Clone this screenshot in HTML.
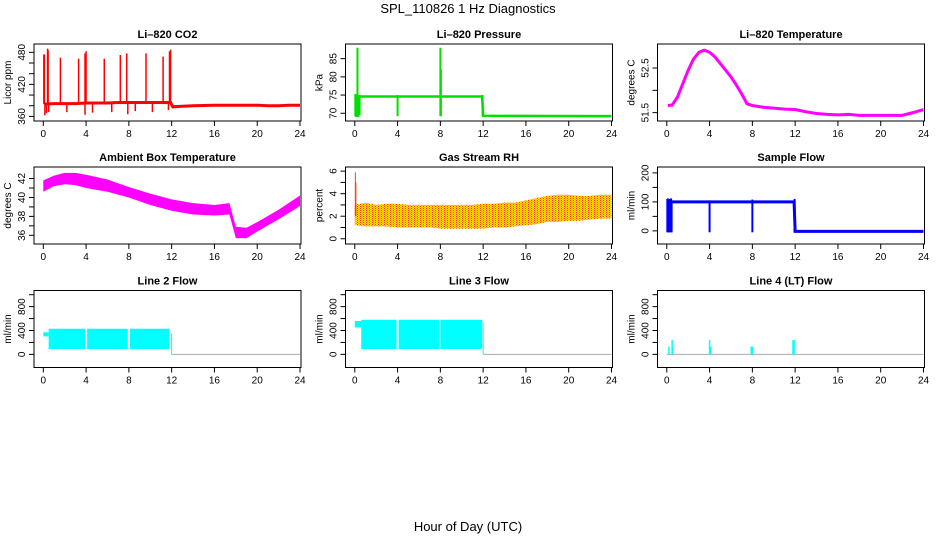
<!DOCTYPE html>
<html><head><meta charset="utf-8"><title>SPL_110826 1 Hz Diagnostics</title>
<style>
html,body{margin:0;padding:0;background:#fff;}
svg{display:block;font-family:"Liberation Sans",Arial,sans-serif;}
</style></head>
<body>
<svg id="chart" width="936" height="540" viewBox="0 0 936 540" xmlns="http://www.w3.org/2000/svg">
<defs>
<pattern id="rhpat" width="3" height="2" patternUnits="userSpaceOnUse">
<rect width="3" height="2" fill="#ffe000"/><rect width="1" height="1" fill="#ff3000"/><rect x="1.5" y="1" width="1" height="1" fill="#ff8000"/>
</pattern>
</defs>
<text x="468" y="13" text-anchor="middle" font-size="13">SPL_110826  1 Hz Diagnostics</text>
<text x="468" y="531" text-anchor="middle" font-size="13">Hour of Day (UTC)</text>
</svg>
<script>
// ---- data ----
const hourTicks = [0,4,8,12,16,20,24];

const co2BaseT = [0.1,1,2,3,4,5,6,7,8,9,10,11,11.9,12.1,13,14,16,18,20,21,22,23,24];
const co2Base = [383,384,384,384,385,385,385,386,386,386,386,386,386,378,379,380,381,381,381,380,380,381,381];
const co2SpikeT = [0.05,0.1,0.4,0.45,1.6,3.3,3.9,4.0,5.7,7.2,7.8,9.6,11.2,11.8,11.9];
const co2SpikeHi = [476,476,487,484,470,468,478,482,468,475,478,478,472,482,485];
const co2DipT = [0.15,0.3,0.5,2.2,3.9,4.6,6.4,7.9,8.6,10.2,11.7];
const co2DipLo = [362,366,368,368,363,367,368,364,370,368,372];

const presBaseT = [0.5,11.9,12,24];
const presBase = [74.6,74.6,69.3,69.2];
const presSpikeT = [0.05,0.1,0.25,0.35,0.45,4,8,8.05,11.95];
const presSpikeLo = [69.2,69,69,69,69.5,69.2,69.2,69.2,69.2];
const presSpikeHi = [75.3,75,88,75,75,75,88,82,75];

const tempT = [0.1,0.5,1,1.5,2,2.5,3,3.5,4,4.5,5,5.5,6,6.5,7,7.5,8,9,10,11,12,13,14,15,16,17,18,19,20,21,22,23,24];
const tempV = [51.66,51.67,51.85,52.15,52.45,52.7,52.85,52.9,52.85,52.75,52.6,52.45,52.3,52.12,51.92,51.7,51.66,51.62,51.6,51.58,51.57,51.52,51.48,51.46,51.45,51.46,51.44,51.44,51.44,51.44,51.44,51.5,51.57];

const ambT = [0,1,2,3,4,6,8,10,12,14,16,17.4,18,19,20,22,24];
const ambLo = [40.6,41.2,41.4,41.3,41.0,40.6,40.0,39.2,38.6,38.2,38.1,38.2,35.7,35.7,36.4,37.7,39.1];
const ambHi = [41.8,42.3,42.6,42.6,42.4,41.9,41.1,40.4,39.8,39.4,39.2,39.4,36.9,36.8,37.4,38.7,40.2];

const rhT = [0,1,2,3,4,5,6,7,8,9,10,11,12,13,14,15,16,17,18,19,20,21,22,23,24];
const rhLo = [1.2,1.1,1.1,1.1,1.0,1.0,1.0,1.0,0.9,0.9,0.9,0.9,0.9,1.0,1.0,1.1,1.2,1.3,1.5,1.5,1.6,1.6,1.7,1.8,1.8];
const rhHi = [3.0,3.2,3.0,3.1,3.1,3.0,3.0,3.0,3.0,3.0,3.0,3.0,3.1,3.1,3.2,3.2,3.4,3.6,3.8,3.9,3.9,3.8,3.8,3.9,3.9];
const rhSpikeT = [0.05,0.1];
const rhSpikeHi = [5.9,5.0];

const sfBaseT = [0.5,11.9,12,24];
const sfBase = [100,100,-2,-2];
const sfSpikeT = [0.05,0.1,0.2,0.3,0.4,0.45,4,8,11.95];
const sfSpikeLo = [-5,-5,-5,-5,-5,-5,-5,-5,-5];
const sfSpikeHi = [110,112,105,110,112,105,105,108,110];

const l2SegStart = [0.5,4.1,8.1];
const l2SegEnd = [3.9,7.9,11.8];
const l2Lo = [90,90,90];
const l2Hi = [430,430,430];
const l2InitLo = 300, l2InitHi = 370;

const l3SegStart = [0.6,4.1,8.0];
const l3SegEnd = [3.9,7.9,11.9];
const l3Lo = [90,90,90];
const l3Hi = [580,580,580];
const l3InitLo = 450, l3InitHi = 560;

const l4SpikeT = [0.2,0.5,0.55,4,4.1,7.9,8,11.8,11.9];
const l4SpikeHi = [130,240,120,240,130,130,130,240,240];

// ---- helpers ----
const NS = "http://www.w3.org/2000/svg";
const svg = document.getElementById("chart");
function mk(tag, attrs, parent){
  const e = document.createElementNS(NS, tag);
  for (const k in attrs) e.setAttribute(k, attrs[k]);
  (parent||svg).appendChild(e);
  return e;
}
const colX = [34,345.5,657.5], rowY = [44,167,290.5], PW = 267, PH = 77;

function panel(col,row,cfg){
  const L = colX[col], T = rowY[row];
  const g = mk("g",{});
  
  
  const sx = t => L + 9.3 + t*(256.7/24);
  const sy = v => T + PH - 3 - (v - cfg.ymin)/(cfg.ymax - cfg.ymin)*(PH - 6);
  const tt = mk("text",{x:L+PW/2,y:T-6,"text-anchor":"middle","font-size":"11","font-weight":"bold"},g);
  tt.textContent = cfg.title;
  
  
  const pg = mk("g",{},g);
  
  
  cfg.draw(pg, sx, sy);
  const bx = mk("rect",{x:L,y:T,width:PW,height:PH,fill:"none",stroke:"#000","stroke-width":"1"},g);
  
  
  const xa = mk("g",{},g);
  
  
  hourTicks.forEach(h=>{
    const x = sx(h);
    mk("line",{x1:x,x2:x,y1:T+PH,y2:T+PH+5,stroke:"#000"},xa);
    const lb = mk("text",{x:x,y:T+PH+16,"text-anchor":"middle","font-size":"10"},xa);
    lb.textContent = h;
    
    
  });
  const ya = mk("g",{},g);
  
  
  cfg.ticks.forEach(v=>{
    const y = sy(v);
    mk("line",{x1:L-5,x2:L,y1:y,y2:y,stroke:"#000"},ya);
  });
  cfg.labels.forEach((s,i)=>{
    const y = sy(cfg.labelVals[i]);
    const lb = mk("text",{x:0,y:0,"text-anchor":"middle","font-size":"10",transform:`translate(${L-9},${y}) rotate(-90)`},ya);
    lb.textContent = s;
    
    
  });
  const yl = mk("text",{x:0,y:0,"text-anchor":"middle","font-size":"10",transform:`translate(${L-23},${T+PH/2}) rotate(-90)`},g);
  yl.textContent = cfg.ylab;
  
  
}
function poly(g, ts, vs, sx, sy, color, w, name){
  const p = mk("polyline",{points:ts.map((t,i)=>sx(t)+","+sy(vs[i])).join(" "),fill:"none",stroke:color,"stroke-width":w},g);
  
  
}
function band(g, ts, lo, hi, sx, sy, fill, name){
  const pts = ts.map((t,i)=>sx(t)+","+sy(hi[i])).concat(ts.slice().reverse().map((t,j)=>sx(t)+","+sy(lo[ts.length-1-j])));
  const p = mk("polygon",{points:pts.join(" "),fill:fill},g);
  
  
}
function vline(g, t, a, b, sx, sy, color, w, name){
  const l = mk("line",{x1:sx(t),x2:sx(t),y1:sy(a),y2:sy(b),stroke:color,"stroke-width":w},g);
  
  
}

panel(0,0,{name:"co2-panel",title:"Li\u2013820 CO2",ylab:"Licor ppm",ymin:357,ymax:490,
  ticks:[360,380,400,420,440,460,480],labels:["360","420","480"],labelVals:[360,420,480],
  draw:(g,sx,sy)=>{
    co2SpikeT.forEach((t,i)=>vline(g,t,co2Base[0],co2SpikeHi[i],sx,sy,"#f00",1.5,"co2-spike"));
    co2DipT.forEach((t,i)=>vline(g,t,385,co2DipLo[i],sx,sy,"#f00",1.5,"co2-dip"));
    poly(g,co2BaseT,co2Base,sx,sy,"#f00",3,"co2-line");
  }});
panel(1,0,{name:"pressure-panel",title:"Li\u2013820 Pressure",ylab:"kPa",ymin:68.7,ymax:88.2,
  ticks:[70,75,80,85],labels:["70","75","80","85"],labelVals:[70,75,80,85],
  draw:(g,sx,sy)=>{
    presSpikeT.forEach((t,i)=>vline(g,t,presSpikeLo[i],presSpikeHi[i],sx,sy,"#00e000",2,"pressure-spike"));
    poly(g,presBaseT,presBase,sx,sy,"#00e000",2.5,"pressure-line");
  }});
panel(2,0,{name:"li820-temp-panel",title:"Li\u2013820 Temperature",ylab:"degrees C",ymin:51.38,ymax:52.97,
  ticks:[51.5,52,52.5],labels:["51.5","52.5"],labelVals:[51.5,52.5],
  draw:(g,sx,sy)=>{ poly(g,tempT,tempV,sx,sy,"#f0f",3,"temperature-line"); }});
panel(0,1,{name:"ambient-temp-panel",title:"Ambient Box Temperature",ylab:"degrees C",ymin:35.4,ymax:42.9,
  ticks:[36,37,38,39,40,41,42],labels:["36","38","40","42"],labelVals:[36,38,40,42],
  draw:(g,sx,sy)=>{ band(g,ambT,ambLo,ambHi,sx,sy,"#f0f","ambient-band"); }});
panel(1,1,{name:"rh-panel",title:"Gas Stream RH",ylab:"percent",ymin:-0.2,ymax:6.1,
  ticks:[0,1,2,3,4,5,6],labels:["0","2","4","6"],labelVals:[0,2,4,6],
  draw:(g,sx,sy)=>{
    band(g,rhT,rhLo,rhHi,sx,sy,"url(#rhpat)","rh-band");
    rhSpikeT.forEach((t,i)=>vline(g,t,2,rhSpikeHi[i],sx,sy,"#ff4000",1,"rh-spike"));
  }});
panel(2,1,{name:"sample-flow-panel",title:"Sample Flow",ylab:"ml/min",ymin:-35,ymax:210,
  ticks:[0,50,100,150,200],labels:["0","100","200"],labelVals:[0,100,200],
  draw:(g,sx,sy)=>{
    sfSpikeT.forEach((t,i)=>vline(g,t,sfSpikeLo[i],sfSpikeHi[i],sx,sy,"#00f",2,"sample-flow-spike"));
    poly(g,sfBaseT,sfBase,sx,sy,"#00f",3,"sample-flow-line");
  }});
function lineFlow(col,name,title,segS,segE,lo,hi,iLo,iHi){
  panel(col,2,{name:name,title:title,ylab:"ml/min",ymin:-170,ymax:1020,
    ticks:[0,200,400,600,800,1000],labels:["0","400","800"],labelVals:[0,400,800],
    draw:(g,sx,sy)=>{
      band(g,[0,segS[0]],[iLo,iLo],[iHi,iHi],sx,sy,"#0ff","flow-initial-band");
      segS.forEach((s,i)=>band(g,[s,segE[i]],[lo[i],lo[i]],[hi[i],hi[i]],sx,sy,"#0ff","flow-band"));
      vline(g,12,0,iHi-20,sx,sy,"#0ff",1,"flow-drop");
      poly(g,[12,24],[0,0],sx,sy,"#aaa",1,"flow-zero-line");
    }});
}
lineFlow(0,"line2-flow-panel","Line 2 Flow",l2SegStart,l2SegEnd,l2Lo,l2Hi,l2InitLo,l2InitHi);
lineFlow(1,"line3-flow-panel","Line 3 Flow",l3SegStart,l3SegEnd,l3Lo,l3Hi,l3InitLo,l3InitHi);
panel(2,2,{name:"line4-flow-panel",title:"Line 4 (LT) Flow",ylab:"ml/min",ymin:-170,ymax:1020,
  ticks:[0,200,400,600,800,1000],labels:["0","400","800"],labelVals:[0,400,800],
  draw:(g,sx,sy)=>{
    poly(g,[0,24],[0,0],sx,sy,"#aaa",1,"line4-zero-line");
    l4SpikeT.forEach((t,i)=>vline(g,t,0,l4SpikeHi[i],sx,sy,"#0ff",1.5,"line4-spike"));
  }});
</script>
</body></html>
